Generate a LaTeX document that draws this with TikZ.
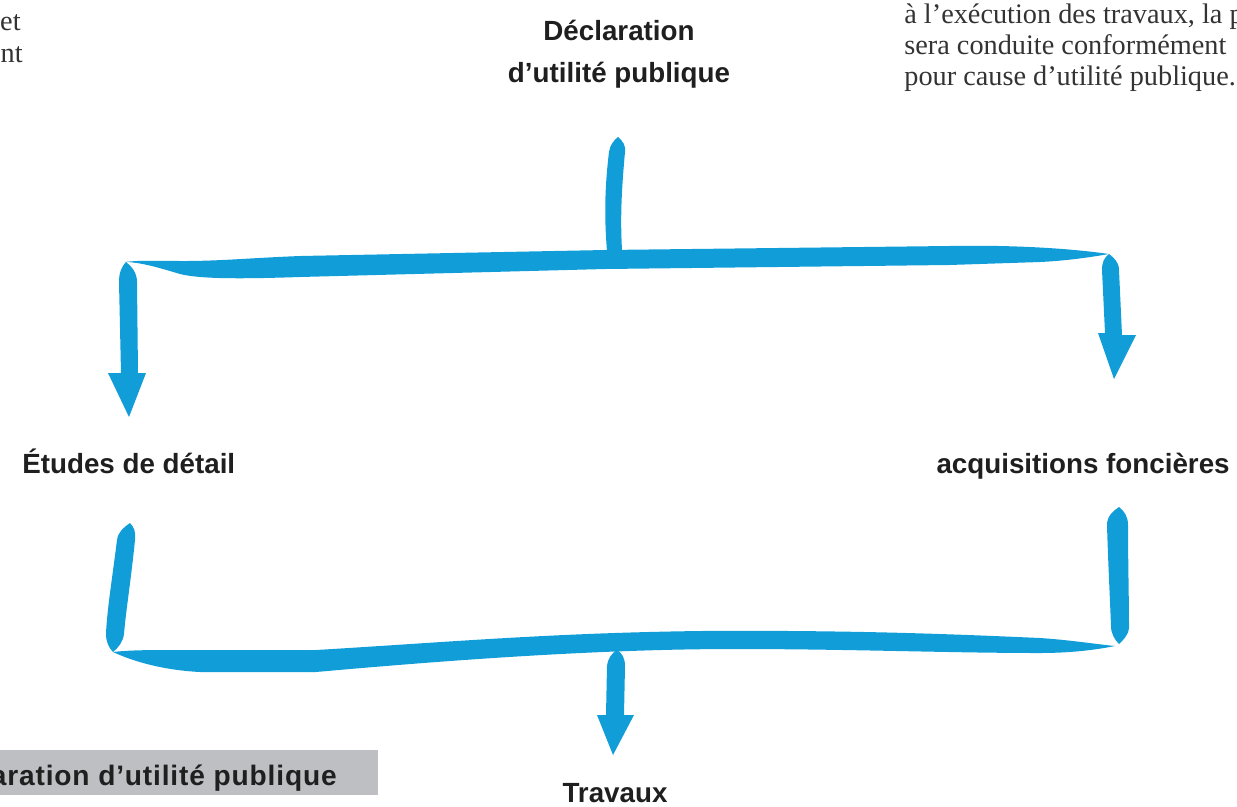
\documentclass[tikz,border=0pt]{standalone}
\usepackage{fontspec}
\setmainfont{Liberation Serif}
\newfontfamily\gothic{Liberation Sans}
\newfontfamily\gothicl{Liberation Sans}[LetterSpace=3]
\definecolor{bleu}{RGB}{17,158,216}
\definecolor{gris}{RGB}{190,191,194}

\begin{document}
\begin{tikzpicture}[x=0.02cm, y=-0.02cm,
    titre/.style={font=\gothic\bfseries\fontsize{15.8}{24}\selectfont, inner sep=0pt, text=black!88},
    texte/.style={font=\fontsize{16.1}{19}\selectfont, inner sep=0pt, text=black!80},
    pinceau/.style={fill=bleu, draw=none}]
    \useasboundingbox (0,0) rectangle (1237,806);
    \clip (0,0) rectangle (1237,806);

    % 本文の切れ端
    \node[texte, anchor=base east] (g1) at (21,30) {et};
    \node[texte, anchor=base east] (g2) at (23,62) {nt};
    \node[texte, anchor=base west] (d1) at (904,23) {à l’exécution des travaux, la p};
    \node[texte, anchor=base west] (d2) at (904,54) {sera conduite conformément};
    \node[texte, anchor=base west] (d3) at (904,85) {pour cause d’utilité publique.};

    % 見出しの帯
    \fill[gris] (0,750) rectangle (378,795);
    \node[anchor=base west, inner sep=0pt, text=black!88, font=\gothicl\bfseries\fontsize{16}{19}\selectfont] (bandeau) at (-9.5,785) {aration d’utilité publique};

    % ノード
    \node[titre, align=center, anchor=north] (decl) at (619,20) {Déclaration\\d’utilité publique};
    \node[titre, anchor=base west] (etudes) at (22,473) {Études de détail};
    \node[titre, anchor=base east] (acq) at (1230,473) {acquisitions foncières};
    \node[titre, anchor=base] (trav) at (615,802) {Travaux};

    % 筆の端
    \coordinate (hg) at (125,262);
    \coordinate (hd) at (1109,254);
    \coordinate (bg) at (113,652);
    \coordinate (bd) at (1115,646);

    % 上の枝
    \fill[pinceau] (618,137) .. controls (623,141) and (626,146) .. (625,152)
        .. controls (622,185) and (620,215) .. (622,250) -- (607,251)
        .. controls (604,215) and (605,185) .. (609,152)
        .. controls (610,145) and (614,140) .. (618,137) -- cycle;
    \fill[pinceau] (hg) .. controls (140,260) and (160,261) .. (184,261)
        .. controls (220,261) and (250,258) .. (300,256) -- (605,250) -- (949,246)
        .. controls (1000,245) and (1060,247) .. (hd)
        .. controls (1080,259) and (1060,261) .. (1040,262)
        -- (949,265) -- (605,269) -- (300,277)
        .. controls (240,279) and (200,279) .. (180,274)
        .. controls (160,268) and (140,262) .. (hg) -- cycle;
    \fill[pinceau] (126,262) .. controls (131,266) and (137,272) .. (137,282)
        -- (138,373) -- (146,373) -- (129,417) -- (108,373) -- (121,373) -- (119,282)
        .. controls (119,272) and (122,266) .. (126,262) -- cycle;
    \fill[pinceau] (hd) .. controls (1114,258) and (1119,262) .. (1119,270)
        -- (1122,335) -- (1136,335) -- (1114,379) -- (1098,333) -- (1105,333) -- (1102,270)
        .. controls (1102,262) and (1104,258) .. (hd) -- cycle;

    % 下の枝
    \fill[pinceau] (130,523) .. controls (134,527) and (136,532) .. (135,540)
        .. controls (131,580) and (126,610) .. (124,634)
        .. controls (123,642) and (118,648) .. (bg)
        .. controls (109,648) and (106,642) .. (106,634)
        .. controls (107,610) and (112,580) .. (117,540)
        .. controls (118,532) and (124,527) .. (130,523) -- cycle;
    \fill[pinceau] (1119,507) .. controls (1124,511) and (1128,516) .. (1128,525)
        .. controls (1128,560) and (1129,600) .. (1129,628)
        .. controls (1128,636) and (1123,640) .. (1119,644)
        .. controls (1115,640) and (1111,634) .. (1111,626)
        .. controls (1110,600) and (1108,560) .. (1107,525)
        .. controls (1107,516) and (1113,511) .. (1119,507) -- cycle;
    \fill[pinceau] (bg) .. controls (130,650) and (150,650) .. (180,650) -- (316,650)
        .. controls (450,642) and (550,633) .. (700,631)
        .. controls (850,630) and (950,634) .. (1040,638)
        .. controls (1070,640) and (1095,644) .. (bd)
        .. controls (1095,650) and (1070,653) .. (1040,653)
        .. controls (950,653) and (850,649) .. (735,649)
        .. controls (600,649) and (450,660) .. (316,672) -- (200,672)
        .. controls (160,670) and (130,660) .. (bg) -- cycle;
    \fill[pinceau] (617,650) .. controls (622,653) and (625,658) .. (625,666)
        -- (624,715) -- (634,715) -- (613,755) -- (597,715) -- (606,715) -- (607,666)
        .. controls (608,658) and (612,653) .. (617,650) -- cycle;
  \end{tikzpicture}
\end{document}
